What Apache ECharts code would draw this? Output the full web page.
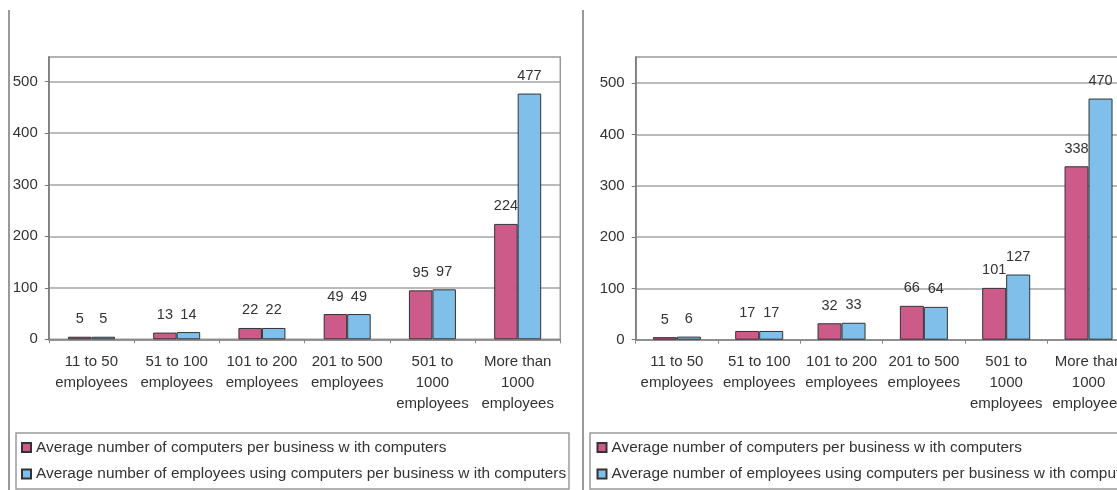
<!DOCTYPE html>
<html>
<head>
<meta charset="utf-8">
<script src="https://cdn.jsdelivr.net/npm/echarts@6/dist/echarts.min.js"></script>
<style>
html,body{margin:0;padding:0;background:#fff;}
#chart{width:1117px;height:490px;}
</style>
</head>
<body>
<div id="chart"></div>
<script>
var categories = ['11 to 50\nemployees', '51 to 100\nemployees', '101 to 200\nemployees', '201 to 500\nemployees', '501 to\n1000\nemployees', 'More than\n1000\nemployees'];
var leftComputers = [5, 13, 22, 49, 95, 224];
var leftEmployees = [5, 14, 22, 49, 97, 477];
var rightComputers = [5, 17, 32, 66, 101, 338];
var rightEmployees = [6, 17, 33, 64, 127, 470];
var seriesNames = ['Average number of computers per business w ith computers', 'Average number of employees using computers per business w ith computers'];
var yTicks = [0, 100, 200, 300, 400, 500];

var FONT = 'Liberation Sans, Arial, sans-serif';
var TXT = '#333';
var PINK = '#CD5B8A';
var BLUE = '#80BFEA';

function xAxis(idx) {
  return {
    type: 'category', gridIndex: idx, data: categories,
    axisLine: {lineStyle: {color: '#888', width: 1.5}},
    axisTick: {show: true, length: 4, lineStyle: {color: '#888', width: 1}},
    axisLabel: {color: TXT, fontFamily: FONT, fontSize: 15, lineHeight: 21, margin: 12, interval: 0}
  };
}
function yAxis(idx, max) {
  return {
    type: 'value', gridIndex: idx, min: 0, max: max, interval: 100,
    axisLine: {show: true, lineStyle: {color: '#777', width: 1.5}},
    axisTick: {show: true, length: 4, customValues: yTicks, lineStyle: {color: '#777', width: 1}},
    splitLine: {show: true, lineStyle: {color: '#a5a5a5', width: 1.5}},
    axisLabel: {color: TXT, fontFamily: FONT, fontSize: 15, margin: 11, customValues: yTicks,
      formatter: function (v) { return yTicks.indexOf(v) >= 0 ? String(v) : ''; }}
  };
}
function bar(name, data, idx, color, bw) {
  return {
    name: name, type: 'bar', xAxisIndex: idx, yAxisIndex: idx, data: data,
    barWidth: bw, barGap: '0%',
    itemStyle: {color: color, borderColor: '#333', borderWidth: 1},
    label: {show: true, position: 'top', distance: 10, color: TXT, fontFamily: FONT, fontSize: 14.5},
    animation: false
  };
}
function legend(left, top) {
  return {
    orient: 'vertical', left: left, top: top, padding: 0, itemGap: 10.6,
    itemWidth: 9, itemHeight: 9, icon: 'rect', selectedMode: false,
    data: seriesNames,
    textStyle: {color: TXT, fontFamily: FONT, fontSize: 15.4, lineHeight: 16}
  };
}

var chart = echarts.init(document.getElementById('chart'));
chart.setOption({
  animation: false,
  backgroundColor: '#fff',
  grid: [
    {left: 48.8, top: 57, width: 511.5, height: 282.3, show: true, borderColor: '#999', borderWidth: 1.5, containLabel: false, outerBoundsMode: 'none'},
    {left: 635.7, top: 57, width: 494, height: 282.7, show: true, borderColor: '#999', borderWidth: 1.5, containLabel: false, outerBoundsMode: 'none'}
  ],
  xAxis: [xAxis(0), xAxis(1)],
  yAxis: [yAxis(0, 548), yAxis(1, 551)],
  legend: [legend(21, 439.5), legend(596.5, 439.5)],
  series: [
    bar(seriesNames[0], leftComputers, 0, PINK, 23.5),
    bar(seriesNames[1], leftEmployees, 0, BLUE, 23.5),
    bar(seriesNames[0], rightComputers, 1, PINK, 24),
    bar(seriesNames[1], rightEmployees, 1, BLUE, 24)
  ],
  graphic: [
    {type: 'line', shape: {x1: 9, y1: 10, x2: 9, y2: 490}, style: {stroke: '#999', lineWidth: 2}},
    {type: 'line', shape: {x1: 583, y1: 10, x2: 583, y2: 490}, style: {stroke: '#999', lineWidth: 2}},
    {type: 'rect', shape: {x: 16, y: 433, width: 553, height: 56}, style: {fill: 'none', stroke: '#999', lineWidth: 1.5}, z: -1},
    {type: 'rect', shape: {x: 590, y: 433, width: 560, height: 56}, style: {fill: 'none', stroke: '#999', lineWidth: 1.5}, z: -1}
  ]
});
</script>
</body>
</html>
